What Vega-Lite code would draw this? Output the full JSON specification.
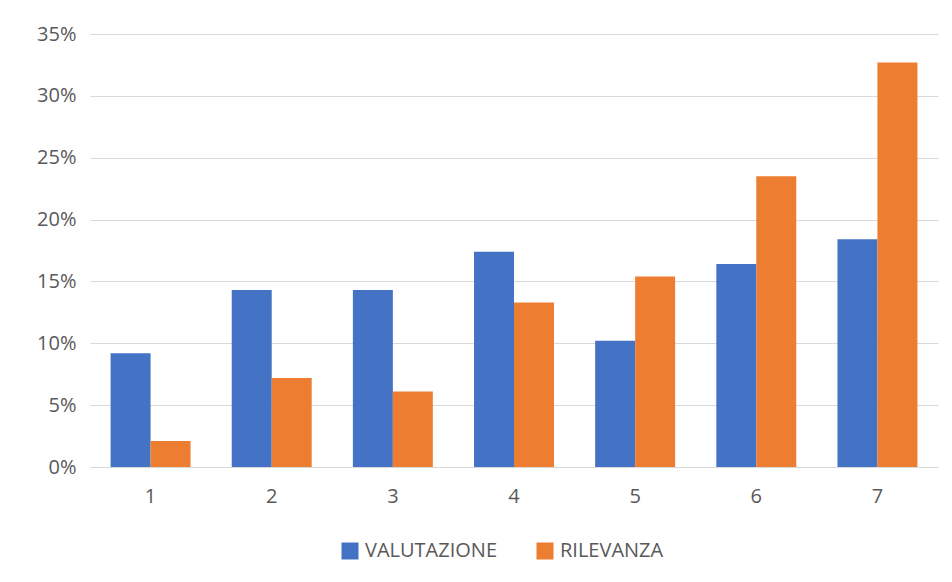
{
  "$schema": "https://vega.github.io/schema/vega-lite/v6.json",
  "width": 848,
  "height": 433,
  "autosize": {"type": "none"},
  "padding": {"left": 90, "top": 34, "right": 14, "bottom": 115},
  "background": "white",
  "config": {
    "view": {"stroke": null},
    "font": "Open Sans",
    "axis": {"labelFont": "Open Sans", "labelFontSize": 20, "labelColor": "#595959", "ticks": false, "title": null},
    "legend": {"labelFont": "Open Sans", "labelFontSize": 20, "labelColor": "#595959"}
  },
  "data": {
    "values": [
      {"cat": "1", "serie": "VALUTAZIONE", "v": 0.092},
      {"cat": "1", "serie": "RILEVANZA", "v": 0.021},
      {"cat": "2", "serie": "VALUTAZIONE", "v": 0.143},
      {"cat": "2", "serie": "RILEVANZA", "v": 0.072},
      {"cat": "3", "serie": "VALUTAZIONE", "v": 0.143},
      {"cat": "3", "serie": "RILEVANZA", "v": 0.061},
      {"cat": "4", "serie": "VALUTAZIONE", "v": 0.174},
      {"cat": "4", "serie": "RILEVANZA", "v": 0.133},
      {"cat": "5", "serie": "VALUTAZIONE", "v": 0.102},
      {"cat": "5", "serie": "RILEVANZA", "v": 0.154},
      {"cat": "6", "serie": "VALUTAZIONE", "v": 0.164},
      {"cat": "6", "serie": "RILEVANZA", "v": 0.235},
      {"cat": "7", "serie": "VALUTAZIONE", "v": 0.184},
      {"cat": "7", "serie": "RILEVANZA", "v": 0.327}
    ]
  },
  "mark": {"type": "bar"},
  "encoding": {
    "x": {
      "field": "cat", "type": "nominal",
      "scale": {"paddingInner": 0.34, "paddingOuter": 0.17},
      "axis": {"labelAngle": 0, "domainColor": "#d9d9d9", "domainWidth": 1, "labelPadding": 19, "grid": false}
    },
    "xOffset": {"field": "serie", "type": "nominal", "sort": ["VALUTAZIONE", "RILEVANZA"]},
    "y": {
      "field": "v", "type": "quantitative",
      "scale": {"domain": [0, 0.35], "nice": false},
      "axis": {"values": [0, 0.05, 0.1, 0.15, 0.2, 0.25, 0.3, 0.35], "format": ".0%", "domain": false, "gridColor": "#d9d9d9", "gridWidth": 1, "labelPadding": 14}
    },
    "color": {
      "field": "serie", "type": "nominal",
      "sort": ["VALUTAZIONE", "RILEVANZA"],
      "scale": {"domain": ["VALUTAZIONE", "RILEVANZA"], "range": ["#4472C4", "#ED7D31"]},
      "legend": {
        "title": null, "orient": "none", "direction": "horizontal",
        "legendX": 250, "legendY": 507,
        "symbolType": "square", "symbolSize": 289, "symbolStrokeWidth": 0, "symbolOpacity": 1,
        "labelOffset": 5, "columnPadding": 37
      }
    }
  }
}
